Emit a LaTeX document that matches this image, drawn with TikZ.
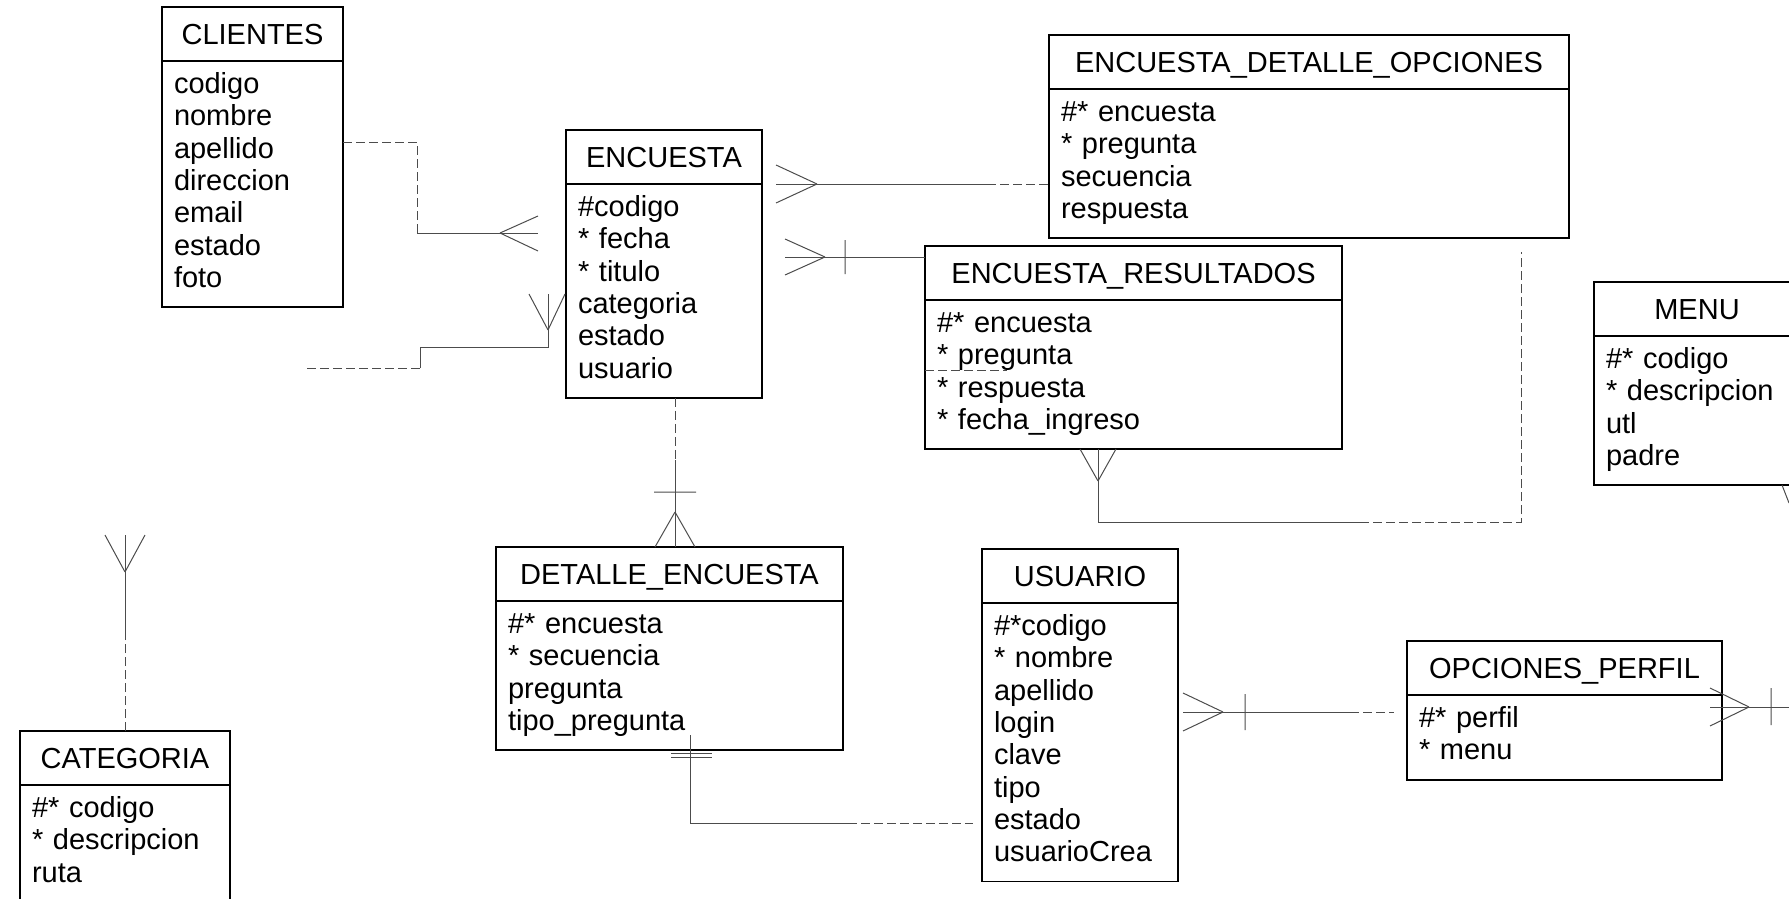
\documentclass[tikz,border=0pt]{standalone}
\usepackage{fontspec}
\setmainfont{Liberation Sans}
\usetikzlibrary{positioning,calc}

\newcommand{\letra}{\fontsize{29}{32.3}\selectfont}

\tikzset{
    titulo/.style={draw, line width=1.8pt, outer sep=0pt, anchor=north west,
        minimum width=#1, minimum height=54pt, inner sep=0pt,
        text height=21pt, text depth=0pt, font=\letra},
    cuerpo/.style={draw, line width=1.8pt, outer sep=0pt, text width=#1,
        align=left, inner xsep=12pt, inner ysep=10pt, font=\letra,
        execute at begin node={\noindent\strut}, execute at end node={\strut}},
    rel/.style={line width=1pt, black!70},
    punteada/.style={rel, dash pattern=on 9pt off 4pt},
}

\begin{document}
\begin{tikzpicture}[x=1pt, y=-1pt]
    \useasboundingbox (0,0) rectangle (1789,899);

    % 表
    \node[titulo=181pt] (cli) at (162,7) {CLIENTES};
    \node[cuerpo=157pt, below=0pt of cli] (cli-c) {codigo\\nombre\\apellido\\direccion\\email\\estado\\foto};

    \node[titulo=196pt] (enc) at (566,130) {ENCUESTA};
    \node[cuerpo=172pt, below=0pt of enc] (enc-c) {\#codigo\\{*} fecha\\{*} titulo\\categoria\\estado\\usuario};

    \node[titulo=520pt] (edo) at (1049,35) {ENCUESTA\_DETALLE\_OPCIONES};
    \node[cuerpo=496pt, below=0pt of edo] (edo-c) {\#* encuesta\\{*} pregunta\\secuencia\\respuesta};

    \node[titulo=417pt] (eres) at (925,246) {ENCUESTA\_RESULTADOS};
    \node[cuerpo=393pt, below=0pt of eres] (eres-c) {\#* encuesta\\{*} pregunta\\{*} respuesta\\{*} fecha\_ingreso};

    \node[titulo=206pt] (menu) at (1594,282) {MENU};
    \node[cuerpo=182pt, below=0pt of menu] (menu-c) {\#* codigo\\{*} descripcion\\utl\\padre};

    \node[titulo=347pt] (det) at (496,547) {DETALLE\_ENCUESTA};
    \node[cuerpo=323pt, below=0pt of det] (det-c) {\#* encuesta\\{*} secuencia\\pregunta\\tipo\_pregunta};

    \node[titulo=196pt] (usu) at (982,549) {USUARIO};
    \node[cuerpo=172pt, below=0pt of usu] (usu-c) {\#*codigo\\{*} nombre\\apellido\\login\\clave\\tipo\\estado\\usuarioCrea};

    \node[titulo=210pt] (cat) at (20,731) {CATEGORIA};
    \node[cuerpo=186pt, below=0pt of cat] (cat-c) {\#* codigo\\{*} descripcion\\ruta};

    \node[titulo=315pt] (op) at (1407,641) {OPCIONES\_PERFIL};
    \node[cuerpo=291pt, below=0pt of op] (op-c) {\#* perfil\\{*} menu};

    % CLIENTES - ENCUESTA
    \draw[punteada] (cli-c.east |- 0,142) -- (417,142) -- (417,233);
    \draw[rel] (417,233) -- ($(enc-c.west |- 0,233)+(-28,0)$);
    \draw[rel] (500,233) -- (538,216) (500,233) -- (538,251);

    % 悬空的线 - ENCUESTA
    \coordinate (libre) at (307,368);
    \draw[punteada] (libre) -- (420,368);
    \draw[rel] (420,368) -- (420,347) -- (548,347) -- (548,294);
    \draw[rel] (548,330) -- (529,294) (548,330) -- (565,294);

    % ENCUESTA - ENCUESTA_DETALLE_OPCIONES
    \draw[rel] ($(enc.south east)+(14,0)$) -- (987,184);
    \draw[punteada] (987,184) -- (edo-c.west |- 0,184);
    \draw[rel] (817,184) -- (776,165) (817,184) -- (776,203);

    % ENCUESTA - ENCUESTA_RESULTADOS
    \draw[rel] ($(enc-c.east |- 0,257)+(23,0)$) -- (eres.west |- 0,257);
    \draw[rel] (825,257) -- (785,239) (825,257) -- (785,275) (845,240) -- (845,274);

    % ENCUESTA_RESULTADOS - ENCUESTA_DETALLE_OPCIONES
    \draw[rel] (eres-c.south -| 1098,0) -- (1098,522) -- (1360,522);
    \draw[punteada] (1360,522) -- (1521,522) -- ($(edo-c.south -| 1521,0)+(0,14)$);
    \draw[rel] (1098,481) -- (1080,449) (1098,481) -- (1116,449);
    \draw[punteada] (eres-c.west |- 0,370) -- (1007,370);

    % ENCUESTA - DETALLE_ENCUESTA
    \draw[punteada] (enc-c.south -| 675,0) -- (675,460);
    \draw[rel] (675,460) -- (det.north -| 675,0);
    \draw[rel] (654,492) -- (696,492) (675,512) -- (655,547) (675,512) -- (695,547);

    % DETALLE_ENCUESTA - USUARIO
    \draw[rel] ($(det-c.south -| 690,0)+(0,-15)$) -- (690,823) -- (848,823);
    \draw[punteada] (848,823) -- ($(usu-c.west |- 0,823)+(-9,0)$);
    \draw[rel] (671,753) -- (712,753) (671,757) -- (712,757);

    % USUARIO - OPCIONES_PERFIL
    \draw[rel] ($(usu-c.east |- 0,712)+(5,0)$) -- (1350,712);
    \draw[punteada] (1350,712) -- ($(op-c.west |- 0,712)+(-13,0)$);
    \draw[rel] (1223,712) -- (1183,693) (1223,712) -- (1183,731) (1245,694) -- (1245,730);

    % OPCIONES_PERFIL - MENU
    \draw[rel] ($(op-c.east |- 0,707)+(-12,0)$) -- (1789,707) -- (menu-c.south -| 1789,0);
    \draw[rel] (1749,707) -- (1710,688) (1749,707) -- (1710,726) (1771,688) -- (1771,725);
    \draw[rel] (1789,503) -- (1782,485) (1789,503) -- (1796,485);

    % CATEGORIA
    \draw[punteada] (cat.north) -- (125,637);
    \draw[rel] (125,637) -- (125,535);
    \draw[rel] (125,572) -- (105,535) (125,572) -- (145,535);
\end{tikzpicture}
\end{document}
